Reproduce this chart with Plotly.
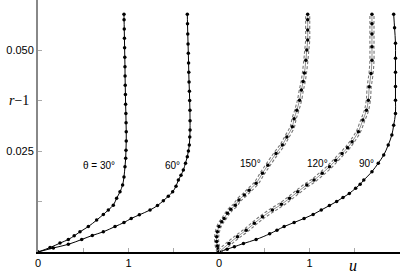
import plotly.graph_objects as go

# ---- data (u, r-1); right group offset by 2 on the u axis ----
y30 = [0, 0.0011, 0.0022, 0.0031, 0.0040, 0.0050, 0.0063, 0.0079, 0.0093, 0.0104, 0.0116, 0.0133,
       0.0149, 0.0166, 0.0186, 0.0211, 0.0232, 0.0252, 0.0275, 0.0298, 0.0320, 0.0343, 0.0366,
       0.0390, 0.0413, 0.0436, 0.0459, 0.0482, 0.0506, 0.0529, 0.0552, 0.0575, 0.0589]
u30 = [0, 0.133, 0.243, 0.335, 0.400, 0.464, 0.556, 0.648, 0.722, 0.777, 0.832, 0.869,
       0.906, 0.935, 0.950, 0.961, 0.969, 0.972, 0.975, 0.975, 0.973, 0.971, 0.968,
       0.966, 0.964, 0.962, 0.961, 0.959, 0.957, 0.955, 0.953, 0.951, 0.950]

y60 = [0, 0.0010, 0.0019, 0.0031, 0.0041, 0.0050, 0.0063, 0.0073, 0.0083, 0.0092, 0.0104, 0.0115,
       0.0127, 0.0138, 0.0149, 0.0163, 0.0178, 0.0190, 0.0203, 0.0220, 0.0236, 0.0250, 0.0265,
       0.0285, 0.0302, 0.0325, 0.0351, 0.0375, 0.0398, 0.0421, 0.0445, 0.0468, 0.0492, 0.0515,
       0.0540, 0.0565, 0.0589]
u60 = [0, 0.17, 0.335, 0.483, 0.60, 0.722, 0.851, 0.95, 1.03, 1.12, 1.238, 1.32,
       1.385, 1.44, 1.488, 1.525, 1.551, 1.58, 1.606, 1.63, 1.650, 1.662, 1.672,
       1.677, 1.680, 1.680, 1.679, 1.676, 1.673, 1.669, 1.666, 1.664, 1.661, 1.658,
       1.655, 1.652, 1.650]

y150 = [0, 0.0008, 0.0015, 0.0026, 0.0038, 0.0050, 0.0063, 0.0075, 0.0083, 0.0096, 0.0106, 0.0116,
        0.0129, 0.0141, 0.0153, 0.0170, 0.0195, 0.0215, 0.0244, 0.0265, 0.0285, 0.0310, 0.0330,
        0.0351, 0.0376, 0.0401, 0.0422, 0.0443, 0.0475, 0.0500, 0.0525, 0.0550, 0.0575, 0.0589]
u150 = [2.0, 1.99, 1.982, 1.974, 1.974, 1.982, 2.0, 2.03, 2.056, 2.093, 2.13, 2.18,
        2.22, 2.28, 2.333, 2.41, 2.48, 2.54, 2.63, 2.70, 2.75, 2.81, 2.83,
        2.86, 2.89, 2.91, 2.93, 2.944, 2.96, 2.97, 2.98, 2.98, 2.98, 2.98]

y120 = [0, 0.0021, 0.0038, 0.0054, 0.0071, 0.0087, 0.0104, 0.0118, 0.0133, 0.0149, 0.0166, 0.0178,
        0.0195, 0.0211, 0.0227, 0.0244, 0.0258, 0.0273, 0.0298, 0.0327, 0.0351, 0.0376, 0.0409,
        0.0442, 0.0475, 0.0508, 0.0540, 0.0565, 0.0589]
u120 = [2.0, 2.11, 2.204, 2.30, 2.39, 2.48, 2.59, 2.69, 2.78, 2.87, 2.97, 3.05,
        3.14, 3.22, 3.29, 3.36, 3.42, 3.47, 3.54, 3.59, 3.63, 3.65, 3.66,
        3.68, 3.69, 3.69, 3.69, 3.69, 3.69]

y90 = [0, 0.0007, 0.0013, 0.0021, 0.0031, 0.0045, 0.0054, 0.0063, 0.0073, 0.0083, 0.0093, 0.0104,
       0.0115, 0.0125, 0.0135, 0.0145, 0.0158, 0.0168, 0.0178, 0.0199, 0.0220, 0.0240, 0.0265,
       0.0290, 0.0314, 0.0343, 0.0376, 0.0410, 0.0445, 0.0480, 0.0517, 0.0555, 0.0589]
u90 = [2.0, 2.09, 2.17, 2.27, 2.41, 2.56, 2.64, 2.72, 2.83, 2.94, 3.04, 3.13,
       3.22, 3.30, 3.37, 3.44, 3.51, 3.56, 3.60, 3.69, 3.76, 3.82, 3.87,
       3.91, 3.93, 3.95, 3.95, 3.95, 3.95, 3.95, 3.95, 3.94, 3.93]

labels = ["θ = 30°", "60°", "150°", "120°", "90°"]
label_u = [0.674, 1.487, 2.35, 3.09, 3.63]
label_y = [0.0213, 0.0215, 0.0218, 0.0220, 0.0220]

xtick_vals = [0, 0.5, 1, 1.5, 2, 2.5, 3, 3.5, 4]
xtick_text = ["0", "", "1", "", "0", "", "1", "", ""]
ytick_vals = [0.0125, 0.025, 0.0375, 0.05]
ytick_text = ["", "0.025", "", "0.050"]

fig = go.Figure()

# banded (dashed double-line) curves
for u, y in [(u150, y150), (u120, y120)]:
    fig.add_trace(go.Scatter(x=u, y=y, mode="lines",
                             line=dict(color="#777", width=5.2, dash="3px,2px", shape="spline")))
    fig.add_trace(go.Scatter(x=u, y=y, mode="lines", line=dict(color="white", width=3, shape="spline")))
    fig.add_trace(go.Scatter(x=u, y=y, mode="lines+markers",
                             line=dict(color="#444", width=0.6, shape="spline"),
                             marker=dict(color="black", size=3.5)))

for u, y in [(u30, y30), (u60, y60), (u90, y90)]:
    fig.add_trace(go.Scatter(x=u, y=y, mode="lines+markers",
                             line=dict(color="black", width=1, shape="spline"),
                             marker=dict(color="black", size=3.5)))

for t, xu, yv in zip(labels, label_u, label_y):
    fig.add_annotation(x=xu, y=yv, text=t, showarrow=False,
                       font=dict(family="Liberation Sans", size=10, color="black"))

fig.add_annotation(x=3.48, xref="x", y=-(276 - 252) / 252, yref="paper", yanchor="bottom",
                   text="<i>u</i>", showarrow=False,
                   font=dict(family="Liberation Serif", size=16, color="black"))
fig.add_annotation(x=-0.018, xref="paper", y=0.0375, yref="y", text="<i>r</i>−1", showarrow=False,
                   xanchor="right", font=dict(family="Liberation Serif", size=14, color="black"))

fig.update_layout(
    width=401, height=273,
    margin=dict(l=38, r=1, t=0, b=21),
    plot_bgcolor="white", paper_bgcolor="white",
    showlegend=False,
    xaxis=dict(range=[0, 4], tickvals=xtick_vals, ticktext=xtick_text, ticks="inside", ticklen=4,
               tickcolor="#aaa", showline=True, linecolor="black", linewidth=1.5, showgrid=False,
               zeroline=False, tickfont=dict(family="Liberation Sans", size=11, color="black")),
    yaxis=dict(range=[0, 0.0624], tickvals=ytick_vals, ticktext=ytick_text, ticks="inside", ticklen=4,
               tickcolor="#aaa", showline=True, linecolor="#888", linewidth=2, showgrid=False,
               zeroline=False, tickfont=dict(family="Liberation Sans", size=11, color="black")),
)

fig.write_html("out.html")
